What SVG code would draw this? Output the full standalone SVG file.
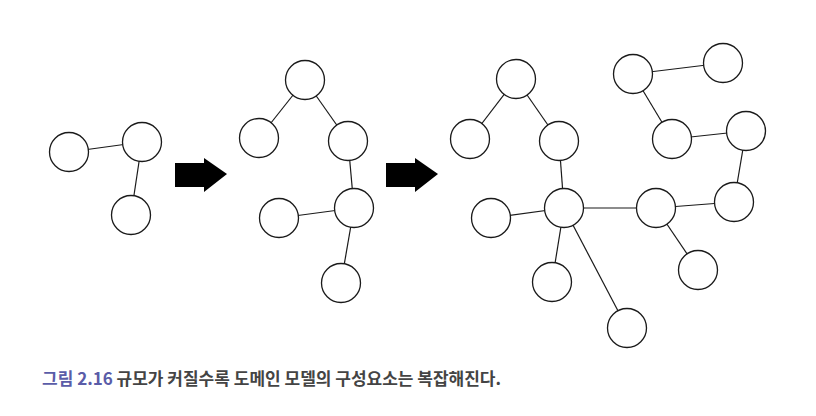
<svg xmlns="http://www.w3.org/2000/svg" width="816" height="416" viewBox="0 0 816 416">
<style>
.n{fill:#fff;stroke:#1a1a1a;stroke-width:1.3}
.e line{stroke:#1a1a1a;stroke-width:1.2}
.arrow{fill:#000}
.cap{font-family:"Noto Sans CJK KR","Noto Sans",sans-serif;font-size:17px;font-weight:bold;fill:#444}
.fig{fill:#5a5ca8}
</style>
<rect width="816" height="416" fill="#fff"/>
<g id="connectors" class="e">
<line x1="69" y1="152" x2="142" y2="142"/>
<line x1="142" y1="142" x2="131" y2="215"/>
<line x1="305" y1="80" x2="259" y2="138"/>
<line x1="305" y1="80" x2="348" y2="141"/>
<line x1="348" y1="141" x2="354" y2="208"/>
<line x1="279" y1="218" x2="354" y2="208"/>
<line x1="354" y1="208" x2="341" y2="283"/>
<line x1="516" y1="79" x2="470" y2="139"/>
<line x1="516" y1="79" x2="559" y2="141"/>
<line x1="559" y1="141" x2="564" y2="208"/>
<line x1="491" y1="218" x2="564" y2="208"/>
<line x1="564" y1="208" x2="552" y2="282"/>
<line x1="564" y1="208" x2="627" y2="328"/>
<line x1="564" y1="208" x2="656" y2="208"/>
<line x1="656" y1="208" x2="698" y2="270"/>
<line x1="656" y1="208" x2="734" y2="202"/>
<line x1="734" y1="202" x2="746" y2="131"/>
<line x1="746" y1="131" x2="672" y2="139"/>
<line x1="672" y1="139" x2="633" y2="74"/>
<line x1="633" y1="74" x2="723" y2="63"/>
</g>
<g id="arrow1"><polygon class="arrow" points="175,163 204,163 204,158 227,174 204,192 204,187 175,187"/></g>
<g id="arrow2"><polygon class="arrow" points="386,163 415,163 415,158 438,174 415,192 415,187 386,187"/></g>
<g id="g1a"><circle class="n" cx="69" cy="152" r="19.5"/></g>
<g id="g1b"><circle class="n" cx="142" cy="142" r="19.5"/></g>
<g id="g1c"><circle class="n" cx="131" cy="215" r="19.5"/></g>
<g id="g2top"><circle class="n" cx="305" cy="80" r="19.5"/></g>
<g id="g2left"><circle class="n" cx="259" cy="138" r="19.5"/></g>
<g id="g2right"><circle class="n" cx="348" cy="141" r="19.5"/></g>
<g id="g2mid"><circle class="n" cx="354" cy="208" r="19.5"/></g>
<g id="g2left2"><circle class="n" cx="279" cy="218" r="19.5"/></g>
<g id="g2bottom"><circle class="n" cx="341" cy="283" r="19.5"/></g>
<g id="g3top"><circle class="n" cx="516" cy="79" r="19.5"/></g>
<g id="g3left"><circle class="n" cx="470" cy="139" r="19.5"/></g>
<g id="g3right"><circle class="n" cx="559" cy="141" r="19.5"/></g>
<g id="g3hub"><circle class="n" cx="564" cy="208" r="19.5"/></g>
<g id="g3hubleft"><circle class="n" cx="491" cy="218" r="19.5"/></g>
<g id="g3hubbottom"><circle class="n" cx="552" cy="282" r="19.5"/></g>
<g id="g3farbottom"><circle class="n" cx="627" cy="328" r="19.5"/></g>
<g id="g3hubright"><circle class="n" cx="656" cy="208" r="19.5"/></g>
<g id="g3bottomright"><circle class="n" cx="698" cy="270" r="19.5"/></g>
<g id="g3rightmid"><circle class="n" cx="734" cy="202" r="19.5"/></g>
<g id="g3righttop"><circle class="n" cx="746" cy="131" r="19.5"/></g>
<g id="g3midupper"><circle class="n" cx="672" cy="139" r="19.5"/></g>
<g id="g3upperleft"><circle class="n" cx="633" cy="74" r="19.5"/></g>
<g id="g3upperright"><circle class="n" cx="723" cy="63" r="19.5"/></g>
<text class="cap" x="42" y="385" textLength="459" lengthAdjust="spacing"><tspan class="fig">그림 2.16</tspan> 규모가 커질수록 도메인 모델의 구성요소는 복잡해진다.</text>
</svg>
